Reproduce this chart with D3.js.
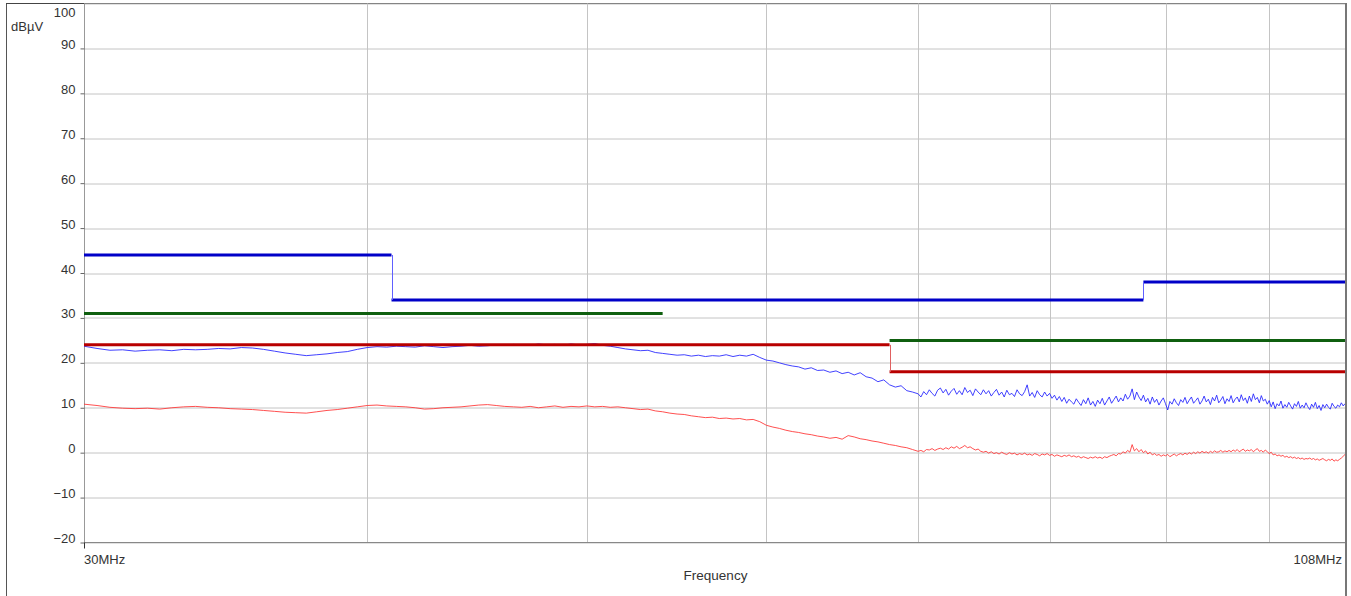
<!doctype html>
<html>
<head>
<meta charset="utf-8">
<script src="https://d3js.org/d3.v7.min.js"></script>
<style>
    body { margin: 0; background: #fff; }
    text { font-family: "Liberation Sans", Arial, sans-serif; fill: #333; }
</style>
</head>
<body>
<svg width="1351" height="596" id="mainsvg"></svg>
<script>
    // two sweep bands: 30..69.6 MHz (0.4 MHz steps), 70..108 MHz (0.2 MHz steps)
    const lowBand = [30, 69.6];
    const highBand = [70, 108];

    // blue (peak) trace, dBuV
    const peakTraceLow = [
        23.7, 23.2, 22.8, 22.9, 22.6, 22.8, 22.9, 22.7, 23.0, 22.9,
        23.0, 23.2, 23.1, 23.4, 23.3, 23.0, 22.6, 22.2, 21.9, 21.6,
        21.8, 22.0, 22.3, 22.5, 23.0, 23.4, 23.6, 23.5, 23.7, 23.6,
        23.5, 23.8, 23.6, 23.4, 23.6, 23.7, 23.9, 23.7, 23.8, 24.0,
        23.9, 24.1, 24.0, 23.9, 24.2, 24.0, 24.1, 23.9, 24.2, 24.0,
        24.1, 24.3, 23.9, 23.7, 23.4, 23.1, 22.9, 22.7, 22.8, 22.3,
        22.1, 21.9, 21.7, 21.8, 21.5, 21.7, 21.4, 21.6, 21.5, 21.8,
        21.4, 21.7, 21.5, 21.9, 21.2, 20.6, 20.4, 20.0, 19.6, 19.3,
        19.1, 18.6, 18.9, 18.3, 18.4, 17.9, 18.2, 17.6, 17.9, 17.3,
        17.8, 16.9, 16.6, 15.8, 16.2, 15.1, 14.6, 14.9, 13.8, 13.5
    ];
    const peakTraceHigh = [
        13.1, 12.4, 13.6, 12.9, 14.0, 13.2, 12.6, 13.9, 14.4, 13.3,
        14.1, 12.8, 13.7, 14.3, 13.0, 13.8, 12.9, 14.5, 13.4, 13.9,
        12.7, 14.2, 13.5, 12.9, 14.0, 13.1, 13.8, 12.6, 13.4, 14.1,
        12.8, 13.5, 12.4, 13.9, 12.9, 13.2, 12.5, 14.0, 13.1, 12.7,
        13.6, 15.1, 12.6, 13.4, 12.3, 13.8, 12.9, 12.4, 13.5, 12.6,
        13.2, 12.1, 12.8, 11.7, 12.5, 11.4, 12.3, 11.0, 11.9, 11.3,
        10.8, 12.0, 11.2, 10.5, 11.8, 10.9, 12.2, 10.6, 11.4, 10.3,
        11.7, 10.9, 12.1, 10.6, 11.5, 12.4, 11.0, 11.8, 12.6, 11.3,
        12.2, 11.5, 13.0, 11.9, 12.6, 14.2, 11.8, 13.5, 12.4, 11.6,
        12.8, 11.3, 12.1, 10.8, 12.4, 11.2, 11.9, 10.6, 11.5, 12.2,
        10.9, 9.5, 11.4, 10.8, 12.0, 11.1, 10.5, 11.8, 11.2, 12.3,
        10.9, 11.7, 12.4, 11.0, 11.6, 12.2, 10.8, 11.5, 12.6, 11.3,
        11.9, 10.7, 12.3, 11.5, 12.8, 11.1, 11.7, 12.5, 10.9, 12.0,
        11.4, 12.7, 11.1, 11.9, 12.4, 11.3, 12.9, 11.6, 12.2, 11.0,
        12.6, 11.4, 13.1, 11.8, 12.3, 11.1, 12.7, 11.5, 11.9, 10.8,
        11.6, 10.2, 11.3, 9.8, 10.9, 10.4, 11.5, 9.9, 10.7, 10.1,
        11.2, 10.4, 9.7, 10.9, 10.3, 11.4, 9.9, 10.6, 10.0, 11.1,
        10.2, 9.6, 10.8, 10.1, 11.2, 9.8, 10.5, 9.4, 10.7, 10.0,
        10.8, 10.1, 9.7, 11.0, 10.3, 9.9, 10.6, 10.2, 11.1, 10.4,
        10.9
    ];

    // red (average) trace, dBuV
    const avgTraceLow = [
        10.8, 10.5, 10.1, 9.9, 9.8, 9.9, 9.7, 10.0, 10.2, 10.3,
        10.1, 10.0, 9.8, 9.7, 9.6, 9.4, 9.2, 9.0, 8.9, 8.8,
        9.1, 9.4, 9.6, 9.9, 10.2, 10.5, 10.6, 10.4, 10.3, 10.2,
        10.0, 9.7, 9.8, 10.0, 10.1, 10.2, 10.4, 10.6, 10.7, 10.5,
        10.3, 10.2, 10.1, 10.3, 10.0, 10.2, 10.4, 10.1, 10.3, 10.2,
        10.4, 10.2, 10.3, 10.1, 10.2, 10.0, 9.8, 9.6, 9.7, 9.3,
        9.1, 8.8, 8.6, 8.5, 8.2, 8.0, 7.8, 7.9, 7.6, 7.7,
        7.5, 7.6, 7.3, 7.4, 6.9, 6.1, 5.7, 5.4, 5.0, 4.7,
        4.5, 4.2, 4.0, 3.7, 3.5, 3.2, 3.4, 3.0, 3.8, 3.5,
        3.1, 2.9, 2.6, 2.4, 2.1, 1.8, 1.6, 1.3, 1.1, 0.7
    ];
    const avgTraceHigh = [
        0.3, 0.5, 0.2, 0.7, 0.6, 0.9, 0.5, 0.8, 1.0, 0.7,
        1.1, 0.8, 1.3, 1.0, 1.4, 0.9, 1.2, 1.6, 1.1, 1.3,
        0.9, 0.6, 0.8, 0.3, 0.1, 0.3, -0.1, 0.2, -0.2, 0.0,
        -0.3, 0.1, -0.2, -0.4, 0.0, -0.3, -0.1, -0.5, -0.2, -0.4,
        -0.1, -0.5, -0.3, -0.6, -0.2, -0.4, -0.7, -0.3, -0.5, -0.2,
        -0.6, -0.4, -0.8, -0.5, -0.7, -0.9, -0.6, -0.8, -0.5, -0.9,
        -0.7, -1.0, -0.8, -1.2, -0.9, -1.1, -1.3, -1.0, -1.2, -0.9,
        -1.2, -1.0, -1.3, -0.9, -1.1, -0.8, -0.6, -0.4, -0.7, -0.2,
        -0.3, 0.2, -0.1, 0.5, 0.1, 1.8, 0.4, 0.9, 0.2, 0.7,
        0.0, 0.4, -0.3, 0.1, -0.5, -0.2, -0.6, -0.4, -0.8, -0.5,
        -0.7, -0.4, -0.9, -0.6, -0.3, -0.7, -0.4, -0.2, -0.5, -0.1,
        -0.4, 0.0, -0.3, 0.1, -0.2, 0.2, -0.1, 0.3, 0.0, 0.2,
        -0.1, 0.3, 0.0, 0.4, 0.1, 0.2, 0.5, 0.1, 0.4, 0.2,
        0.5, 0.2, 0.6, 0.3, 0.7, 0.2, 0.5, 0.8, 0.3, 0.6,
        0.4, 0.7, 0.2, 0.6, 0.9, 0.3, 0.5, 0.1, 0.6, 0.2,
        -0.2, 0.1, -0.5, -0.3, -0.7, -0.5, -0.8, -0.6, -1.0, -0.8,
        -1.1, -0.9, -1.2, -1.0, -1.3, -1.1, -1.4, -1.2, -1.5, -1.3,
        -1.4, -1.2, -1.5, -1.3, -1.6, -1.4, -1.7, -1.5, -1.3, -1.6,
        -1.8, -1.5, -1.7, -1.4, -1.9, -1.6, -1.8, -1.5, -1.2, -0.8,
        -0.4
    ];

    // limit lines: band edges (MHz) and levels (dBuV)
    const blueLimitEdges = [30, 41, 88, 108];
    const blueLimitLevels = [44, 34, 38];
    const redLimitEdges = [30, 68, 108];
    const redLimitLevels = [24, 18];
    const greenLimitBands = [[30, 54], [68, 108]];
    const greenLimitLevels = [31, 25];

    const yTicks = [100, 90, 80, 70, 60, 50, 40, 30, 20, 10, 0, -10, -20];
    const xGridFreqs = [40, 50, 60, 70, 80, 90, 100];

    const svg = d3.select('svg');
    const width = +svg.attr('width');
    const height = +svg.attr('height');
    const margin = {top: 3.5, right: 6, bottom: 53.5, left: 84};
    const innerWidth = width - margin.left - margin.right;
    const innerHeight = height - margin.top - margin.bottom;

    const x = d3.scaleLog().domain([30, 108]).range([0, innerWidth]);
    const y = d3.scaleLinear().domain([-20, 100]).range([innerHeight, 0]);

    // outer frame
    svg.append('line').attr('x1', 6.5).attr('x2', 6.5).attr('y1', 3).attr('y2', height)
        .attr('stroke', '#555');
    svg.append('line').attr('x1', 6).attr('x2', 1346).attr('y1', 3.5).attr('y2', 3.5)
        .attr('stroke', '#444');

    const g = svg.append('g').attr('transform', `translate(${margin.left}, ${margin.top})`);

    // grid
    g.selectAll('.hgrid').data(yTicks).join('line')
        .attr('class', 'hgrid')
        .attr('x1', 0).attr('x2', innerWidth)
        .attr('y1', d => Math.round(y(d)) + 0.5).attr('y2', d => Math.round(y(d)) + 0.5)
        .attr('stroke', '#c4c4c4');
    g.selectAll('.vgrid').data(xGridFreqs).join('line')
        .attr('class', 'vgrid')
        .attr('x1', d => Math.round(x(d)) + 0.5).attr('x2', d => Math.round(x(d)) + 0.5)
        .attr('y1', 0).attr('y2', innerHeight)
        .attr('stroke', '#c4c4c4');

    // y axis
    const yAxis = d3.axisLeft(y).tickValues(yTicks).tickSize(4).tickPadding(5);
    const yg = g.append('g').attr('transform', 'translate(0.5,0)').call(yAxis);
    yg.select('.domain').attr('stroke', '#999').attr('d', `M0,0V${innerHeight}`);
    yg.selectAll('.tick line').attr('stroke', '#666');
    yg.selectAll('.tick text')
        .style('font-size', '13px').attr('fill', '#333')
        .attr('dy', '0')
        .attr('y', d => d == 100 ? 13 : 0);
    yg.selectAll('.tick').filter(d => d == 100).select('line').remove();

    // x axis baseline + end ticks
    g.append('line').attr('x1', 0).attr('x2', innerWidth)
        .attr('y1', innerHeight).attr('y2', innerHeight).attr('stroke', '#888');
    [30, 108].forEach(f => {
        g.append('line').attr('x1', Math.round(x(f)) + 0.5).attr('x2', Math.round(x(f)) + 0.5)
            .attr('y1', innerHeight).attr('y2', innerHeight + 6).attr('stroke', '#333');
    });
    g.append('text').text('30MHz').attr('x', x(30)).attr('y', innerHeight + 21)
        .style('font-size', '13px');
    g.append('text').text('108MHz').attr('x', x(108) - 3).attr('y', innerHeight + 21)
        .attr('text-anchor', 'end').style('font-size', '13px');
    g.append('text').text('Frequency').attr('x', innerWidth / 2 + 1).attr('y', innerHeight + 37)
        .attr('text-anchor', 'middle').style('font-size', '13.5px');
    svg.append('text').text('dBµV').attr('x', 11).attr('y', 31).style('font-size', '13px');

    // traces
    function sweep(band, values)
    {
        const step = (band[1] - band[0]) / (values.length - 1);
        return values.map((v, i) => ({f: band[0] + i * step, v: v}));
    }
    const peakPoints = sweep(lowBand, peakTraceLow).concat(sweep(highBand, peakTraceHigh));
    const avgPoints = sweep(lowBand, avgTraceLow).concat(sweep(highBand, avgTraceHigh));
    const traceLine = d3.line().x(d => x(d.f)).y(d => y(d.v));
    g.append('path').datum(avgPoints).attr('d', traceLine)
        .attr('fill', 'none').attr('stroke', '#ff3030').attr('stroke-width', 0.85);
    g.append('path').datum(peakPoints).attr('d', traceLine)
        .attr('fill', 'none').attr('stroke', '#2020ff').attr('stroke-width', 0.85);

    // stepped limit lines
    function drawSteps(edges, levels, color, thin)
    {
        levels.forEach((v, i) => {
            g.append('line')
                .attr('x1', x(edges[i])).attr('x2', x(edges[i + 1]))
                .attr('y1', y(v)).attr('y2', y(v))
                .attr('stroke', color).attr('stroke-width', 3);
            if(i > 0)
            {
                g.append('line')
                    .attr('x1', Math.round(x(edges[i])) + 0.5).attr('x2', Math.round(x(edges[i])) + 0.5)
                    .attr('y1', y(levels[i - 1])).attr('y2', y(v))
                    .attr('stroke', thin).attr('stroke-width', 1);
            }
        });
    }
    drawSteps(blueLimitEdges, blueLimitLevels, '#0000c8', '#6060ff');
    drawSteps(redLimitEdges, redLimitLevels, '#b80000', '#e06060');
    greenLimitBands.forEach((b, i) => {
        g.append('line')
            .attr('x1', x(b[0])).attr('x2', x(b[1]))
            .attr('y1', y(greenLimitLevels[i])).attr('y2', y(greenLimitLevels[i]))
            .attr('stroke', '#0f5f0f').attr('stroke-width', 3);
    });

    // right frame edge
    svg.append('line').attr('x1', 1346).attr('x2', 1346).attr('y1', 3).attr('y2', height)
        .attr('stroke', '#777').attr('stroke-width', 2);
</script>
</body>
</html>
